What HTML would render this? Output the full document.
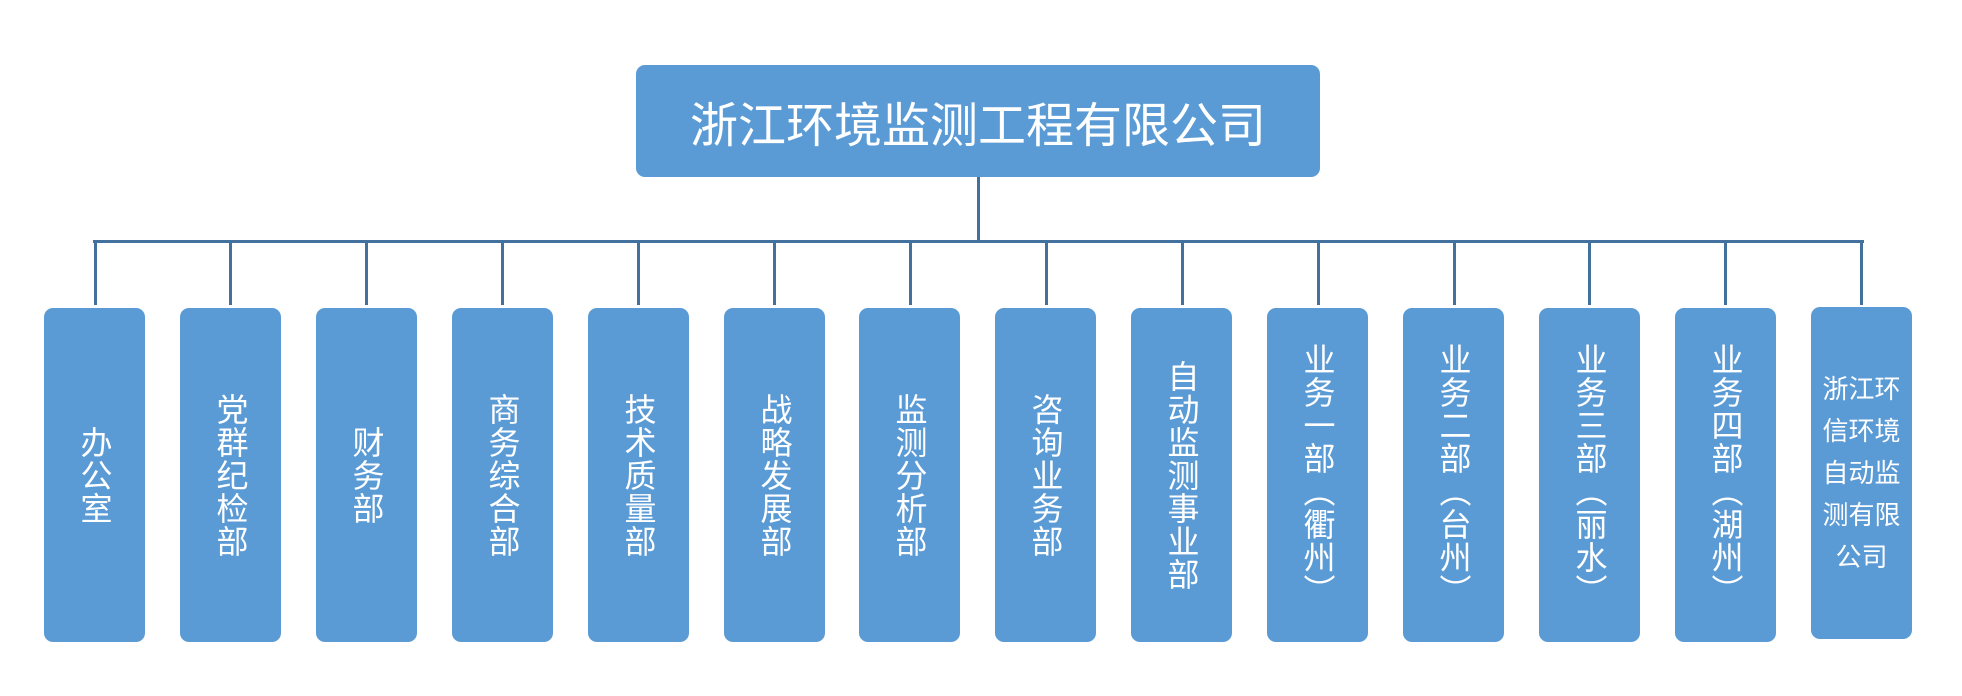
<!DOCTYPE html>
<html><head><meta charset="utf-8"><style>
body{margin:0;width:1962px;height:696px;background:#fff;position:relative;overflow:hidden;font-family:"Liberation Sans","Noto Sans CJK SC",sans-serif;}
.b{position:absolute;background:#5B9BD5;border-radius:9px;color:#fff;display:flex;align-items:center;justify-content:center;}
.v{writing-mode:vertical-rl;font-size:32px;line-height:32px;letter-spacing:1px;}
.l{position:absolute;background:#41719C;}
</style></head><body>
<div class="b" style="left:636px;top:65px;width:684px;height:112px;font-size:48px;">浙江环境监测工程有限公司</div>
<div class="l" style="left:977px;top:177px;width:3px;height:66px;"></div>
<div class="l" style="left:93px;top:240px;width:1771px;height:3px;"></div>
<div id="c"></div>
<script>
var t=["办公室","党群纪检部","财务部","商务综合部","技术质量部","战略发展部","监测分析部","咨询业务部","自动监测事业部","业务一部（衢州）","业务二部（台州）","业务三部（丽水）","业务四部（湖州）"];
var h="";
for(var k=0;k<14;k++){var x=44+k*135.9;var cx=Math.round(x+50.5);
h+='<div class="l" style="left:'+(cx-1)+'px;top:241px;width:3px;height:64px;"></div>';
if(k<13)h+='<div class="b" style="left:'+Math.round(x)+'px;top:308px;width:101px;height:334px;"><span class="v">'+t[k]+'</span></div>';
else h+='<div class="b" style="left:'+Math.round(x)+'px;top:307px;width:101px;height:332px;font-size:26px;line-height:42px;text-align:center;"><span>浙江环<br>信环境<br>自动监<br>测有限<br>公司</span></div>';}
document.getElementById("c").innerHTML=h;
</script>
</body></html>
